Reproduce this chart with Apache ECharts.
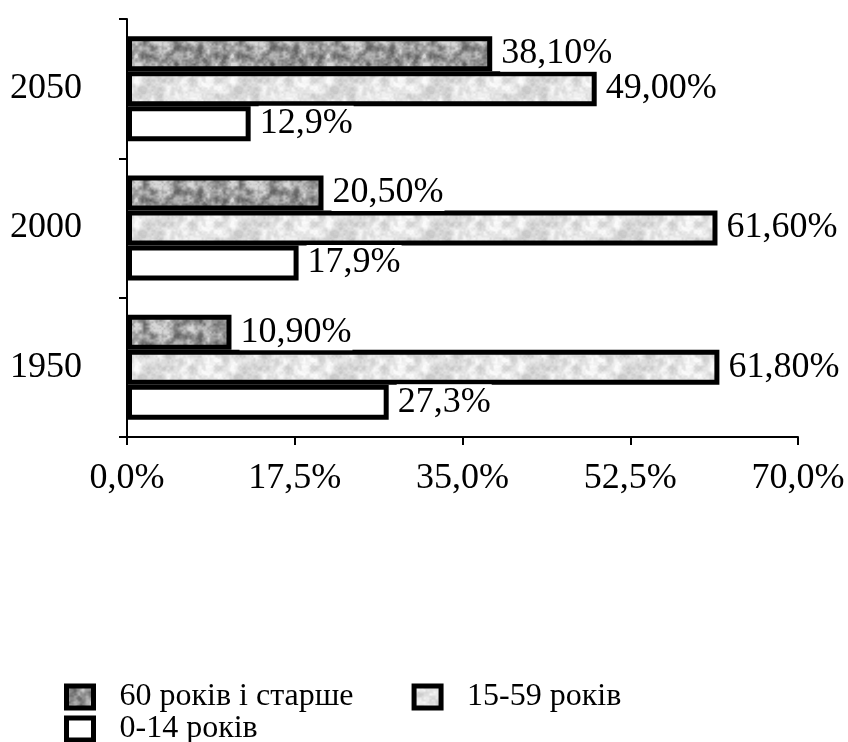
<!DOCTYPE html>
<html>
<head>
<meta charset="utf-8">
<title>Вікова структура населення</title>
<script src="https://cdn.jsdelivr.net/npm/echarts@6/dist/echarts.min.js"></script>
<style>
  html, body { margin: 0; padding: 0; background: #fff; }
  #chart { width: 848px; height: 742px; }
</style>
</head>
<body>
<div id="chart"></div>
<script>
// Categories and shares of each age group, %
const years = ['1950', '2000', '2050'];
const age60plus = [10.9, 20.5, 38.1];
const age15to59 = [61.8, 61.6, 49.0];
const age0to14 = [27.3, 17.9, 12.9];
const seriesNames = ['60 років і старше', '15-59 років', '0-14 років'];
const labelDecimals = [2, 2, 1];
const xTicks = { min: 0, max: 70, step: 17.5 };

const FONT = 'Liberation Serif';

// Tileable mottled grey texture (hashed value noise) for the bar fills
function hash(x, y, seed) {
  let h = (Math.imul(x, 374761393) + Math.imul(y, 668265263) + Math.imul(seed, 982451653)) | 0;
  h = Math.imul(h ^ (h >>> 13), 1274126177);
  h = h ^ (h >>> 16);
  return (h >>> 0) / 4294967295;
}
function noise(px, py, cell, seed, w, h) {
  const gw = w / cell, gh = h / cell;
  const fx = px / cell, fy = py / cell;
  const x0 = Math.floor(fx), y0 = Math.floor(fy);
  const tx = fx - x0, ty = fy - y0;
  const sx = tx * tx * (3 - 2 * tx), sy = ty * ty * (3 - 2 * ty);
  const g = (i, j) => hash(((i % gw) + gw) % gw, ((j % gh) + gh) % gh, seed);
  const a = g(x0, y0), b = g(x0 + 1, y0), c = g(x0, y0 + 1), d = g(x0 + 1, y0 + 1);
  return (a + (b - a) * sx) + ((c + (d - c) * sx) - (a + (b - a) * sx)) * sy;
}
function makeTexture(lo, hi, seed) {
  const w = 96, h = 48;
  const cv = document.createElement('canvas');
  cv.width = w; cv.height = h;
  const ctx = cv.getContext('2d');
  const img = ctx.createImageData(w, h);
  for (let y = 0; y < h; y++) {
    for (let x = 0; x < w; x++) {
      let n = 0.5 * noise(x, y, 8, seed, w, h)
            + 0.3 * noise(x, y, 4, seed + 7, w, h)
            + 0.2 * noise(x, y, 2, seed + 13, w, h);
      n = Math.min(1, Math.max(0, (n - 0.5) * 1.8 + 0.5));
      const v = Math.round(lo + (hi - lo) * n);
      const k = (y * w + x) * 4;
      img.data[k] = img.data[k + 1] = img.data[k + 2] = v;
      img.data[k + 3] = 255;
    }
  }
  ctx.putImageData(img, 0, 0);
  return { image: cv, repeat: 'repeat' };
}

const darkFill = makeTexture(100, 215, 3);
const lightFill = makeTexture(200, 250, 11);
const fills = [darkFill, lightFill, '#ffffff'];
const dataSets = [age60plus, age15to59, age0to14];

const fmtComma = (v, d) => v.toFixed(d).replace('.', ',') + '%';

const chart = echarts.init(document.getElementById('chart'), null, { renderer: 'canvas' });

const series = seriesNames.map((name, i) => ({
  name: name,
  type: 'bar',
  data: dataSets[i],
  barWidth: 35,
  barGap: 0,
  itemStyle: { color: fills[i], borderColor: '#000', borderWidth: 5 },
  label: {
    show: true,
    position: 'right',
    distance: 8,
    fontFamily: FONT,
    fontSize: 36,
    lineHeight: 36,
    color: '#000',
    backgroundColor: '#fff',
    padding: [0, 1],
    formatter: p => fmtComma(p.value, labelDecimals[i])
  },
  emphasis: { disabled: true },
  animation: false
}));

const legendText = { fontFamily: FONT, fontSize: 32, color: '#000', padding: [0, 0, 0, 21] };
const legendStyle = { borderColor: '#000', borderWidth: 5 };

chart.setOption({
  backgroundColor: '#fff',
  animation: false,
  grid: { left: 127, right: 50, top: 19, bottom: 305, containLabel: false },
  legend: [
    {
      data: [seriesNames[0], seriesNames[1]],
      left: 64, top: 681, orient: 'horizontal',
      itemWidth: 27, itemHeight: 22, itemGap: 58,
      icon: 'rect', itemStyle: legendStyle, textStyle: legendText,
      selectedMode: false, padding: 0
    },
    {
      data: [seriesNames[2]],
      left: 64, top: 713, orient: 'horizontal',
      itemWidth: 27, itemHeight: 22,
      icon: 'rect', itemStyle: legendStyle, textStyle: legendText,
      selectedMode: false, padding: 0
    }
  ],
  xAxis: {
    type: 'value',
    min: xTicks.min, max: xTicks.max, interval: xTicks.step,
    splitLine: { show: false },
    axisLine: { show: true, lineStyle: { color: '#000', width: 2 } },
    axisTick: { show: true, length: 8, lineStyle: { color: '#000', width: 2 } },
    axisLabel: {
      margin: 24, fontFamily: FONT, fontSize: 36, color: '#000',
      formatter: v => fmtComma(v, 1)
    }
  },
  yAxis: {
    type: 'category',
    data: years,
    axisLine: { show: true, lineStyle: { color: '#000', width: 2 } },
    axisTick: { show: true, length: 8, lineStyle: { color: '#000', width: 2 } },
    axisLabel: { margin: 45, fontFamily: FONT, fontSize: 36, color: '#000' }
  },
  series: series
});
</script>
</body>
</html>
